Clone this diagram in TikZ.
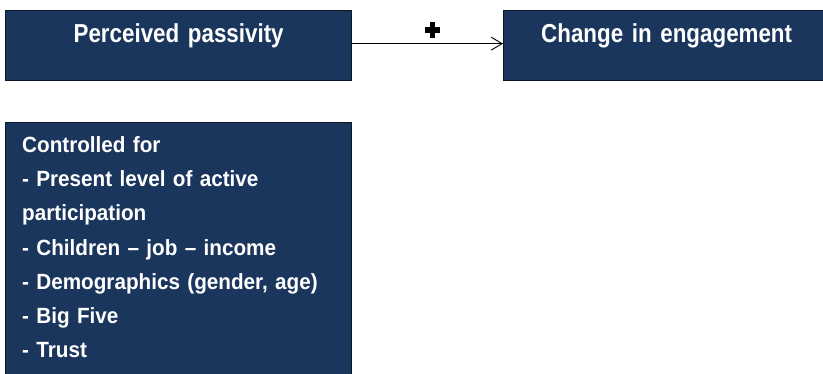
\documentclass[tikz,border=0pt]{standalone}
\usepackage{fontspec}
\setmainfont{Liberation Sans}
\newfontfamily\topfont[FakeStretch=0.86,WordSpace=0.7]{Liberation Sans}
\newfontfamily\ctlfont[FakeStretch=0.94,WordSpace=0.7]{Liberation Sans}
\usetikzlibrary{arrows.meta}
\definecolor{navy}{RGB}{27,54,93}
\definecolor{navyedge}{RGB}{12,24,40}
\tikzset{
  boxbase/.style={draw=navyedge, line width=1.3pt, fill=navy, text=white, inner sep=0pt, anchor=north west},
  topbox/.style={boxbase, align=center,
     text height=32pt, text depth=38pt, font=\topfont\bfseries\fontsize{26}{30}\selectfont},
  ctltext/.style={anchor=north west, inner sep=0pt, text=white, align=left, text width=330pt,
     font=\ctlfont\bfseries\fontsize{22}{34.3}\selectfont},
  link/.style={line width=0.9pt, black, -{Straight Barb[length=11pt,width=13pt,line width=0.9pt]}},
}
\begin{document}
\begin{tikzpicture}[x=1pt,y=-1pt]
\useasboundingbox (0,0) rectangle (823,374);
\node[topbox, minimum width=346pt, text width=346pt] (p) at (5,10) {Perceived passivity};
\node[topbox, minimum width=326pt, text width=326pt] (c) at (503,10) {Change in engagement};
\node[boxbase, minimum width=346pt, minimum height=280pt] (ctl) at (5,122) {};
\node[ctltext] (ctltxt) at (22,132) {\rule{0pt}{20pt}Controlled for\\
- Present level of active\\
participation\\
- Children – job – income\\
- Demographics (gender, age)\\
- Big Five\\
- Trust};
\draw[link] ([yshift=2pt]p.east) -- ([yshift=2pt]c.west);
\node[inner sep=0pt, minimum size=15pt] (plus) at (432.5,30) {};
\fill ([xshift=-2.6pt]plus.north) rectangle ([xshift=2.6pt]plus.south);
\fill ([yshift=-2.6pt]plus.west) rectangle ([yshift=2.6pt]plus.east);
\end{tikzpicture}
\end{document}
